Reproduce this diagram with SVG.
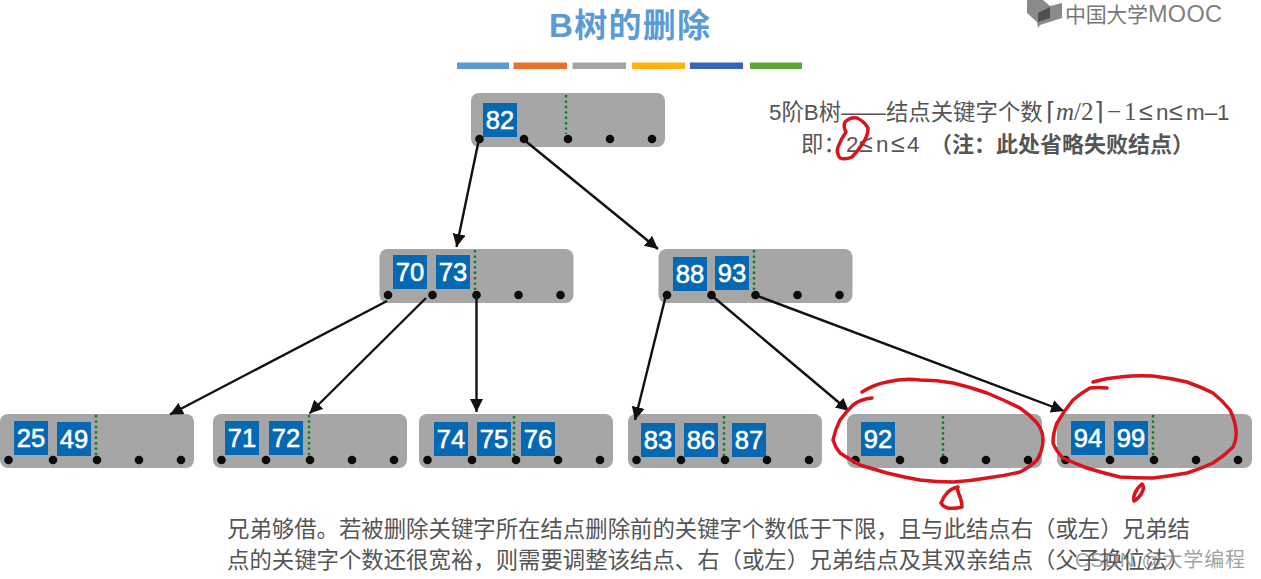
<svg xmlns="http://www.w3.org/2000/svg" width="1261" height="579" viewBox="0 0 1261 579">
<defs>
<marker id="ah" markerUnits="userSpaceOnUse" markerWidth="15" markerHeight="14" refX="13" refY="6.500" orient="auto"><path d="M0,0L13,6.500L0,13Z" fill="#111"/></marker>
<g id="dots"><circle cx="8.500" cy="46" r="4.300"/><circle cx="53" cy="46" r="4.300"/><circle cx="97" cy="46" r="4.300"/><circle cx="139" cy="46" r="4.300"/><circle cx="181" cy="46" r="4.300"/></g>
</defs>
<style>
text{font-family:"Liberation Sans","Noto Sans CJK SC",sans-serif}
.n{fill:#a6a6a6}
.k{fill:#0568b2}
.kt{fill:#fff;stroke:#fff;stroke-width:.6px;font-size:25.500px;text-anchor:middle}
.dv{stroke:#0a7d1e;stroke-width:2.400;stroke-dasharray:2.400 3;fill:none}
.d{fill:#0b0b0b}
.c{stroke:#111;stroke-width:2.400;fill:none;marker-end:url(#ah)}
.t{fill:#555;font-size:22.400px}
.r{fill:none;stroke:#d8141c;stroke-width:3.500;stroke-linecap:round;stroke-linejoin:round}
</style>
<rect width="1261" height="579" fill="#fff"/>
<g id="header">
<text x="549" y="37" font-size="33" font-weight="700" fill="#5b9bd5" textLength="161">B树的删除</text>
<rect x="457" y="62.500" width="52" height="6.500" fill="#5b9bd5"/>
<rect x="513.500" y="62.500" width="53.500" height="6.500" fill="#e9722a"/>
<rect x="572.500" y="62.500" width="53.500" height="6.500" fill="#a5a5a5"/>
<rect x="632" y="62.500" width="53" height="6.500" fill="#ffb30f"/>
<rect x="690" y="62.500" width="53" height="6.500" fill="#3566b8"/>
<rect x="750" y="62.500" width="52" height="6.500" fill="#5ea536"/>
</g>
<g id="logo">
<path d="M1027,0H1043L1050,6L1062,3V18L1040,25L1038,28L1037,22L1027,13Z" fill="#8a8a8a"/>
<path d="M1038,13L1050,7V18L1038,22Z" fill="#4f4f4f"/>
<text x="1065" y="22" font-size="21" fill="#777" textLength="83">中国大学</text>
<text x="1148" y="22" font-size="23.500" fill="#808080" textLength="74">MOOC</text>
</g>
<g id="node-82">
<rect class="n" x="471" y="93" width="194" height="54" rx="8"/>
<rect class="k" x="483" y="103" width="34" height="34"/><text class="kt" x="500" y="129">82</text>
<path class="dv" d="M566,95V134"/>
<use href="#dots" class="d" x="471" y="93"/>
</g>
<g id="node-70-73">
<rect class="n" x="379.500" y="249" width="194" height="54" rx="8"/>
<rect class="k" x="393" y="255" width="34" height="34"/><text class="kt" x="410" y="281">70</text>
<rect class="k" x="436" y="255" width="34" height="34"/><text class="kt" x="453" y="281">73</text>
<path class="dv" d="M475,250V290"/>
<use href="#dots" class="d" x="379.500" y="249"/>
</g>
<g id="node-88-93">
<rect class="n" x="658.500" y="249" width="194" height="54" rx="8"/>
<rect class="k" x="673" y="257" width="34" height="34"/><text class="kt" x="690" y="283">88</text>
<rect class="k" x="715" y="256" width="34" height="34"/><text class="kt" x="732" y="282">93</text>
<path class="dv" d="M754,250V290"/>
<use href="#dots" class="d" x="658.500" y="249"/>
</g>
<g id="node-25-49">
<rect class="n" x="0" y="414" width="194" height="54" rx="8"/>
<rect class="k" x="14" y="421" width="34" height="34"/><text class="kt" x="31" y="447">25</text>
<rect class="k" x="57" y="422" width="34" height="34"/><text class="kt" x="74" y="448">49</text>
<path class="dv" d="M96,415V456"/>
<use href="#dots" class="d" x="0" y="414"/>
</g>
<g id="node-71-72">
<rect class="n" x="213" y="414" width="194" height="54" rx="8"/>
<rect class="k" x="225" y="421" width="34" height="34"/><text class="kt" x="242" y="447">71</text>
<rect class="k" x="269" y="421" width="34" height="34"/><text class="kt" x="286" y="447">72</text>
<path class="dv" d="M309,415V456"/>
<use href="#dots" class="d" x="213" y="414"/>
</g>
<g id="node-74-75-76">
<rect class="n" x="419" y="414" width="194" height="54" rx="8"/>
<rect class="k" x="434" y="422" width="34" height="34"/><text class="kt" x="451" y="448">74</text>
<rect class="k" x="477" y="422" width="34" height="34"/><text class="kt" x="494" y="448">75</text>
<rect class="k" x="521" y="422" width="34" height="34"/><text class="kt" x="538" y="448">76</text>
<path class="dv" d="M514,416V457"/>
<use href="#dots" class="d" x="419" y="414"/>
</g>
<g id="node-83-86-87">
<rect class="n" x="628" y="414" width="194" height="54" rx="8"/>
<rect class="k" x="641" y="423" width="34" height="34"/><text class="kt" x="658" y="449">83</text>
<rect class="k" x="684" y="423" width="34" height="34"/><text class="kt" x="701" y="449">86</text>
<rect class="k" x="732" y="423" width="34" height="34"/><text class="kt" x="749" y="449">87</text>
<path class="dv" d="M724,416V457"/>
<use href="#dots" class="d" x="628" y="414"/>
</g>
<g id="node-92">
<rect class="n" x="847" y="414" width="195" height="54" rx="8"/>
<rect class="k" x="861" y="422" width="34" height="34"/><text class="kt" x="878" y="448">92</text>
<path class="dv" d="M943,416V456"/>
<use href="#dots" class="d" x="847" y="414"/>
</g>
<g id="node-94-99">
<rect class="n" x="1057" y="414" width="195" height="54" rx="8"/>
<rect class="k" x="1071" y="421" width="34" height="34"/><text class="kt" x="1088" y="447">94</text>
<rect class="k" x="1114" y="421" width="34" height="34"/><text class="kt" x="1131" y="447">99</text>
<path class="dv" d="M1153,415V456"/>
<use href="#dots" class="d" x="1057" y="414"/>
</g>
<g id="connectors">
<line class="c" x1="479" y1="139" x2="456.500" y2="247"/>
<line class="c" x1="523" y1="139" x2="658" y2="249"/>
<line class="c" x1="387" y1="301" x2="170" y2="414.500"/>
<line class="c" x1="426" y1="298" x2="309.500" y2="413.500"/>
<line class="c" x1="476.500" y1="295" x2="476.500" y2="412"/>
<line class="c" x1="666" y1="295" x2="635" y2="420"/>
<line class="c" x1="711" y1="295" x2="849" y2="411"/>
<line class="c" x1="755" y1="295" x2="1064" y2="411"/>
</g>
<g id="note">
<text class="t" x="769" y="120">5阶B树——结点关键字个数</text>
<text x="1046" y="120" font-size="25" fill="#555" style="font-family:'Liberation Serif',serif">⌈<tspan font-style="italic">m</tspan>/2⌉<tspan x="1107">−</tspan><tspan x="1124">1</tspan></text>
<text class="t" y="120"><tspan x="1139" font-size="25">≤</tspan><tspan x="1156">n</tspan><tspan x="1169" font-size="25">≤</tspan><tspan x="1186">m–1</tspan></text>
<text class="t" y="152"><tspan x="801">即：</tspan><tspan x="846">2</tspan><tspan x="859" font-size="25">≤</tspan><tspan x="876">n</tspan><tspan x="891" font-size="25">≤</tspan><tspan x="907">4</tspan></text>
<text x="930" y="152" font-size="22" font-weight="700" fill="#555">（注：此处省略失败结点）</text>
</g>
<g id="body-text">
<text class="t" x="227" y="537">兄弟够借。若被删除关键字所在结点删除前的关键字个数低于下限，且与此结点右（或左）兄弟结</text>
<text class="t" x="227" y="568">点的关键字个数还很宽裕，则需要调整该结点、右（或左）兄弟结点及其双亲结点（父子换位法）</text>
</g>
<text id="watermark" x="1075" y="567" font-size="20" fill="#888" fill-opacity="0.8" textLength="170">CSDN @大学编程</text>
<g id="ink">
<path class="r" d="M862,392Q875,384 887,382Q903,378 920,380Q937,380 953,383Q970,387 987,393Q1004,400 1020,408Q1030,415 1037,423Q1043,431 1043,440Q1043,450 1037,460Q1030,467 1020,472Q1003,476 987,478Q970,481 953,482Q936,482 920,480Q903,477 887,473Q873,469 860,465Q849,459 840,453Q835,447 833,440Q835,430 840,420Q846,412 853,405Q861,399 872,398"/>
<path class="r" d="M1093,382Q1106,378 1120,377Q1136,375 1153,376Q1170,378 1187,382Q1201,387 1213,393Q1223,401 1230,410Q1235,420 1236,430Q1237,439 1233,447Q1224,456 1213,463Q1200,469 1187,473Q1170,476 1153,478Q1136,478 1120,477Q1103,473 1087,468Q1074,463 1063,458Q1056,451 1053,443Q1053,433 1057,423Q1064,411 1073,400Q1081,393 1090,388Q1098,387 1107,388"/>
<path class="r" d="M958,487Q952,488 948,492Q943,497 941,503Q943,507 948,508Q955,509 962,507Q962,502 960,497Q958,492 957,488"/>
<path class="r" d="M1142,484Q1137,488 1135,493Q1133,498 1134,501Q1136,500 1138,498Q1142,494 1143,490Q1144,486 1142,484"/>
<path class="r" d="M846,132Q843,126 845,122Q850,117 857,118Q864,121 868,128Q868,136 863,143Q858,151 852,157Q845,160 840,158Q836,153 838,147Q841,139 846,132"/>
</g>
</svg>
